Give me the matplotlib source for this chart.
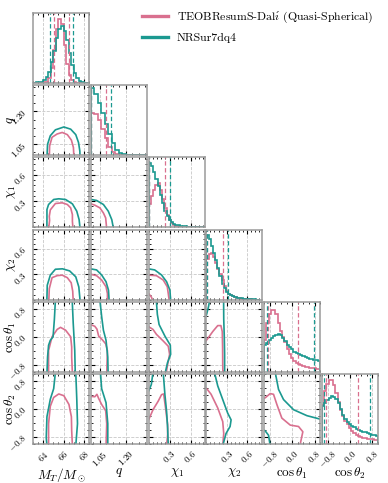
import numpy as np
import matplotlib
matplotlib.use("Agg")
import matplotlib.pyplot as plt
from matplotlib.ticker import AutoMinorLocator
from matplotlib.lines import Line2D

plt.rcParams['mathtext.fontset'] = 'cm'
plt.rcParams['font.family'] = ['cmr10', 'DejaVu Serif']
plt.rcParams['axes.formatter.use_mathtext'] = True

# ---------------- data ----------------
series_labels = [r"TEOBResumS-Dal$\acute{\imath}$ (Quasi-Spherical)", "NRSur7dq4"]
param_labels = [r"$M_T/M_\odot$", r"$q$", r"$\chi_1$", r"$\chi_2$", r"$\cos\theta_1$", r"$\cos\theta_2$"]
ranges = [(63.0, 68.5), (1.0, 1.32), (0.0, 0.8), (0.0, 0.83), (-1.0, 1.0), (-1.0, 1.0)]
major_ticks = [[64, 66, 68], [1.05, 1.20], [0.3, 0.6], [0.3, 0.6], [-0.8, 0.0, 0.8], [-0.8, 0.0, 0.8]]
tick_labels = [["64", "66", "68"], ["1.05", "1.20"], ["0.3", "0.6"], ["0.3", "0.6"],
               ["-0.8", "0.0", "0.8"], ["-0.8", "0.0", "0.8"]]
minor_div = [4, 4, 5, 5, 4, 4]

# histogram bins: (low, high, nbins)
hist_bins = [(63.0, 68.5, 22), (1.0, 1.32, 16), (0.0, 0.8, 25), (0.0, 0.8, 25), (-1.0, 1.0, 25), (-1.0, 1.0, 25)]
hist_ymax = [1.1, 1.0, 1.0, 1.0, 1.0, 1.0]

mt_pink = [0, 0, 0, 0, 0.01, 0.02, 0.08, 0.24, 0.52, 0.85, 1.0, 0.92, 0.60, 0.30, 0.12, 0.04, 0.015, 0.005, 0, 0, 0, 0]
mt_teal = [0, 0.01, 0.01, 0.02, 0.04, 0.09, 0.18, 0.33, 0.51, 0.70, 0.85, 0.89, 0.82, 0.67, 0.47, 0.29, 0.16, 0.08, 0.035, 0.015, 0.005, 0]
q_pink = [0.60, 0.59, 0.50, 0.38, 0.24, 0.11, 0.05, 0.02, 0.008, 0.003, 0, 0, 0, 0, 0, 0]
q_teal = [0.96, 0.88, 0.74, 0.60, 0.45, 0.30, 0.17, 0.08, 0.035, 0.015, 0.008, 0.004, 0.002, 0.001, 0, 0]
chi1_pink = [0.33, 0.45, 0.53, 0.61, 0.63, 0.54, 0.40, 0.27, 0.17, 0.10, 0.06, 0.04, 0.025, 0.018, 0.012,
             0.008, 0.005, 0.003, 0.002, 0, 0, 0, 0, 0, 0]
chi1_teal = [0.92, 0.87, 0.79, 0.69, 0.59, 0.46, 0.35, 0.24, 0.16, 0.10, 0.07, 0.05, 0.04, 0.03, 0.025,
             0.02, 0.015, 0.01, 0.008, 0.006, 0.004, 0.003, 0.002, 0.001, 0]
chi2_pink = [0.58, 0.65, 0.66, 0.61, 0.53, 0.44, 0.36, 0.28, 0.20, 0.13, 0.08, 0.06, 0.045, 0.035, 0.025,
             0.018, 0.012, 0.008, 0.005, 0.003, 0.002, 0, 0, 0, 0]
chi2_teal = [0.93, 0.86, 0.76, 0.67, 0.56, 0.45, 0.34, 0.23, 0.16, 0.11, 0.08, 0.06, 0.05, 0.04, 0.03,
             0.025, 0.02, 0.015, 0.01, 0.008, 0.005, 0.003, 0.002, 0.001, 0]
ct1_pink = [0.46, 0.70, 0.83, 0.89, 0.89, 0.82, 0.70, 0.59, 0.50, 0.42, 0.33, 0.26, 0.20, 0.16, 0.13,
            0.11, 0.095, 0.08, 0.072, 0.065, 0.06, 0.055, 0.05, 0.045, 0.04]
ct1_teal = [0.38, 0.41, 0.45, 0.48, 0.51, 0.53, 0.54, 0.52, 0.48, 0.44, 0.39, 0.35, 0.32, 0.29, 0.27,
            0.25, 0.24, 0.23, 0.21, 0.20, 0.19, 0.18, 0.17, 0.165, 0.16]
ct2_pink = [0.56, 0.76, 0.86, 0.91, 0.91, 0.85, 0.73, 0.60, 0.49, 0.40, 0.33, 0.28, 0.23, 0.19, 0.16,
            0.135, 0.12, 0.105, 0.09, 0.08, 0.075, 0.07, 0.065, 0.06, 0.055]
ct2_teal = [0.54, 0.59, 0.63, 0.66, 0.68, 0.67, 0.64, 0.58, 0.50, 0.42, 0.36, 0.32, 0.29, 0.26, 0.24,
            0.215, 0.2, 0.185, 0.17, 0.165, 0.155, 0.145, 0.135, 0.125, 0.12]

# 5% / 95% quantiles
quant_pink = [(65.05, 66.5), (1.004, 1.087), (0.012, 0.24), (0.012, 0.243), (-0.85, 0.20), (-0.84, 0.30)]
quant_teal = [(64.67, 66.94), (1.002, 1.116), (0.008, 0.30), (0.008, 0.314), (-0.905, 0.79), (-0.93, 0.70)]

# 90% credible contours (x, y)
mt_q_pink = [(64.6, 0.98), (64.63, 1.042), (64.87, 1.082), (65.37, 1.097), (65.87, 1.104), (66.37, 1.094),
             (66.77, 1.069), (66.97, 1.035), (67.03, 0.98)]
mt_q_teal = [(64.36, 0.98), (64.43, 1.05), (64.7, 1.089), (65.2, 1.116), (66.03, 1.129), (66.7, 1.119),
             (67.2, 1.094), (67.47, 1.058), (67.6, 1.019), (67.63, 0.98)]
mt_chi1_pink = [(64.53, -0.02), (64.63, 0.08), (64.6, 0.127), (64.7, 0.2), (65.2, 0.273), (65.87, 0.281),
                (66.37, 0.262), (66.7, 0.223), (66.87, 0.146), (66.87, 0.069), (66.93, -0.02)]
mt_chi1_teal = [(64.36, -0.02), (64.37, 0.1), (64.37, 0.204), (64.53, 0.262), (65.03, 0.319), (65.53, 0.327),
                (66.2, 0.319), (66.87, 0.269), (67.3, 0.185), (67.53, 0.088), (67.63, -0.02)]
mt_chi2_pink = [(64.55, -0.02), (64.6, 0.13), (64.87, 0.26), (65.37, 0.284), (65.87, 0.29), (66.37, 0.26),
                (66.75, 0.2), (66.9, 0.1), (66.95, -0.02)]
mt_chi2_teal = [(64.36, -0.02), (64.4, 0.17), (64.7, 0.29), (65.2, 0.36), (65.9, 0.365), (66.6, 0.34),
                (67.2, 0.27), (67.5, 0.15), (67.63, -0.02)]
mt_ct1_pink = [(64.53, -1.05), (64.53, -0.39), (64.87, 0.0), (65.37, 0.21), (65.7, 0.27), (66.2, 0.19),
               (66.7, 0.0), (66.8, -0.29), (66.8, -0.58), (66.87, -1.05)]
mt_ct1_teal_a = [(65.2, 1.05), (65.1, 0.5), (64.97, 0.0), (64.7, -0.1), (64.53, -0.24), (64.43, -0.58), (64.37, -1.05)]
mt_ct1_teal_b = [(66.85, 1.05), (66.95, 0.39), (67.1, -0.39), (67.15, -1.05)]
mt_ct2_pink = [(64.53, -1.05), (64.53, -0.42), (64.7, 0.08), (65.03, 0.33), (65.53, 0.43), (66.03, 0.38),
               (66.53, 0.13), (66.77, -0.22), (66.8, -0.62), (66.87, -1.05)]
mt_ct2_teal_a = [(65.2, 1.05), (65.03, 0.58), (64.7, 0.28), (64.37, -0.22), (64.3, -0.82), (64.37, -1.05)]
mt_ct2_teal_b = [(67.2, 1.05), (67.3, 0.28), (67.37, -0.42), (67.2, -1.05)]
q_chi1_pink = [(0.98, 0.27), (1.0, 0.27), (1.023, 0.254), (1.052, 0.223), (1.072, 0.165), (1.085, 0.108), (1.091, -0.02)]
q_chi1_teal = [(0.98, 0.32), (1.0, 0.32), (1.033, 0.308), (1.072, 0.262), (1.1, 0.185), (1.12, 0.088), (1.13, -0.02)]
q_chi2_pink = [(0.98, 0.3), (1.0, 0.3), (1.033, 0.284), (1.062, 0.232), (1.087, 0.152), (1.095, 0.072), (1.095, -0.02)]
q_chi2_teal = [(0.98, 0.365), (1.0, 0.364), (1.033, 0.352), (1.062, 0.292), (1.087, 0.212), (1.101, 0.112), (1.105, -0.02)]
q_ct1_pink = [(0.98, 0.34), (1.004, 0.34), (1.023, 0.30), (1.035, 0.22), (1.045, 0.02), (1.065, -0.08),
              (1.085, -0.2), (1.095, -0.4), (1.093, -0.7), (1.091, -1.05)]
q_ct1_teal = [(1.052, 1.05), (1.062, 0.58), (1.072, 0.19), (1.087, -0.1), (1.097, -0.58), (1.099, -1.05)]
q_ct2_pink = [(0.98, 0.36), (1.004, 0.36), (1.023, 0.35), (1.035, 0.42), (1.045, 0.30), (1.062, 0.13),
              (1.085, -0.05), (1.091, -0.42), (1.087, -1.05)]
q_ct2_teal = [(1.055, 1.05), (1.062, 0.58), (1.087, 0.18), (1.097, -0.42), (1.097, -1.05)]
chi1_chi2_pink = [(-0.02, 0.29), (0.0, 0.29), (0.112, 0.284), (0.209, 0.232), (0.267, 0.152), (0.281, 0.072), (0.296, -0.02)]
chi1_chi2_pink_b = [(-0.02, 0.075), (0.0, 0.072), (0.039, 0.032), (0.063, -0.02)]
chi1_chi2_teal = [(-0.02, 0.364), (0.0, 0.364), (0.087, 0.352), (0.185, 0.292), (0.257, 0.212), (0.305, 0.112), (0.315, -0.02)]
chi1_ct1_pink = [(-0.02, 0.30), (0.0, 0.29), (0.063, 0.21), (0.112, 0.07), (0.209, -0.12), (0.281, -0.27),
                 (0.30, -0.5), (0.272, -0.79), (0.25, -1.05)]
chi1_ct1_pink_b = [(-0.02, -0.03), (0.008, -0.08), (-0.02, -0.14)]
chi1_ct1_teal = [(0.11, 1.05), (0.125, 0.64), (0.15, 0.35), (0.233, 0.02), (0.31, -0.24), (0.315, -0.5),
                 (0.27, -0.74), (0.235, -1.05)]
chi1_ct2_pink = [(-0.02, -0.33), (0.0, -0.31), (0.063, -0.02), (0.136, 0.22), (0.185, 0.41), (0.215, 0.43),
                 (0.242, 0.03), (0.272, -0.45), (0.272, -0.74), (0.257, -1.05)]
chi1_ct2_teal_a = [(-0.02, 0.48), (0.0, 0.51), (0.039, 0.70), (0.063, 1.05)]
chi1_ct2_teal_b = [(0.209, 1.05), (0.233, 0.41), (0.257, -0.07), (0.272, -0.55), (0.281, -1.05)]
chi2_ct1_pink = [(-0.02, -0.15), (0.02, -0.05), (0.094, 0.15), (0.168, 0.32), (0.215, 0.32), (0.235, 0.15),
                 (0.24, -0.3), (0.242, -0.8), (0.245, -1.05)]
chi2_ct1_teal_a = [(-0.02, 0.6), (0.0, 0.62), (0.03, 0.85), (0.05, 1.05)]
chi2_ct1_teal_b = [(0.255, 1.05), (0.257, 0.5), (0.265, 0.0), (0.27, -0.5), (0.27, -1.05)]
chi2_ct2_pink = [(-0.02, 0.61), (0.005, 0.58), (0.07, 0.42), (0.168, 0.03), (0.242, -0.36), (0.257, -0.7), (0.242, -1.05)]
chi2_ct2_teal = [(0.119, 1.05), (0.168, 0.66), (0.242, 0.27), (0.316, -0.12), (0.366, -0.31), (0.351, -0.5),
                 (0.291, -0.7), (0.242, -1.05)]
ct1_ct2_pink = [(-1.05, 0.3), (-0.964, 0.32), (-0.786, 0.44), (-0.667, 0.42), (-0.548, 0.13), (-0.37, -0.26),
                (-0.07, -0.46), (0.226, -0.5), (0.38, -0.65), (0.3, -0.95), (0.29, -1.05)]
ct1_ct2_teal_a = [(-0.607, 1.05), (-0.488, 0.56), (-0.31, 0.27), (0.048, -0.02), (0.524, -0.19), (1.05, -0.3)]
ct1_ct2_teal_b = [(-1.05, -0.6), (-0.97, -0.62), (-0.845, -0.75), (-0.786, -1.05)]

# ---------------- assemble ----------------
hists = [(mt_pink, mt_teal), (q_pink, q_teal), (chi1_pink, chi1_teal), (chi2_pink, chi2_teal),
         (ct1_pink, ct1_teal), (ct2_pink, ct2_teal)]
contours = {
    (1, 0): ([mt_q_pink], [mt_q_teal]),
    (2, 0): ([mt_chi1_pink], [mt_chi1_teal]),
    (3, 0): ([mt_chi2_pink], [mt_chi2_teal]),
    (4, 0): ([mt_ct1_pink], [mt_ct1_teal_a, mt_ct1_teal_b]),
    (5, 0): ([mt_ct2_pink], [mt_ct2_teal_a, mt_ct2_teal_b]),
    (2, 1): ([q_chi1_pink], [q_chi1_teal]),
    (3, 1): ([q_chi2_pink], [q_chi2_teal]),
    (4, 1): ([q_ct1_pink], [q_ct1_teal]),
    (5, 1): ([q_ct2_pink], [q_ct2_teal]),
    (3, 2): ([chi1_chi2_pink, chi1_chi2_pink_b], [chi1_chi2_teal]),
    (4, 2): ([chi1_ct1_pink, chi1_ct1_pink_b], [chi1_ct1_teal]),
    (5, 2): ([chi1_ct2_pink], [chi1_ct2_teal_a, chi1_ct2_teal_b]),
    (4, 3): ([chi2_ct1_pink], [chi2_ct1_teal_a, chi2_ct1_teal_b]),
    (5, 3): ([chi2_ct2_pink], [chi2_ct2_teal]),
    (5, 4): ([ct1_ct2_pink], [ct1_ct2_teal_a, ct1_ct2_teal_b]),
}

PINK = "#d9708f"
TEAL = "#1b9990"
colors = [PINK, TEAL]
GRID = "#c8c8c8"
SPINE = "#9a9a9a"

W, H = 388, 483
fig = plt.figure(figsize=(W / 100, H / 100), dpi=100)
left0, colpitch, aw = 33.0, 57.8, 56.0
top0, rowpitch, ah = 13.0, 72.2, 70.0
n = 6

def mathlab(s):
    return "$" + s + "$"

for i in range(n):
    for j in range(i + 1):
        x0 = left0 + j * colpitch
        y0 = top0 + i * rowpitch
        ax = fig.add_axes([x0 / W, 1 - (y0 + ah) / H, aw / W, ah / H])
        ax.set_axisbelow(True)
        for sp in ax.spines.values():
            sp.set_color(SPINE)
            sp.set_linewidth(1.1)
        ax.set_xlim(ranges[j])
        ax.set_xticks(major_ticks[j])
        ax.xaxis.set_minor_locator(AutoMinorLocator(minor_div[j]))
        ax.tick_params(which='both', direction='in', top=True, bottom=True, colors='black')
        ax.tick_params(which='major', length=3.2, width=0.8)
        ax.tick_params(which='minor', length=1.6, width=0.6)
        if i == j:
            lo, hi, nb = hist_bins[i]
            edges = np.linspace(lo, hi, nb + 1)
            for s in range(2):
                ax.stairs(hists[i][s], edges, color=colors[s], lw=1.2)
            for s, qs in enumerate([quant_pink[i], quant_teal[i]]):
                for v in qs:
                    ax.axvline(v, color=colors[s], ls='--', lw=0.9, dashes=(3.5, 2.0))
            ax.set_ylim(0, hist_ymax[i])
            ax.set_yticks([])
            ax.tick_params(axis='y', which='both', left=False, right=False)
            ax.grid(True, axis='x', which='major', ls='--', color=GRID, lw=0.6)
        else:
            ax.set_ylim(ranges[i])
            ax.set_yticks(major_ticks[i])
            ax.yaxis.set_minor_locator(AutoMinorLocator(minor_div[i]))
            ax.tick_params(axis='y', which='both', left=True, right=True)
            ax.grid(True, which='major', ls='--', color=GRID, lw=0.6)
            for s in range(2):
                for line in contours[(i, j)][s]:
                    xs, ys = zip(*line)
                    ax.plot(xs, ys, color=colors[s], lw=1.2, solid_joinstyle='round')
        # x labels
        if i == n - 1:
            ax.set_xticklabels([mathlab(t) for t in tick_labels[j]], rotation=45, fontsize=6.5)
            ax.set_xlabel(param_labels[j], fontsize=9.5)
            ax.xaxis.set_label_coords(0.5, -0.315)
        else:
            ax.set_xticklabels([])
        # y labels
        if j == 0 and i > 0:
            ax.set_yticklabels([mathlab(t) for t in tick_labels[i]], rotation=45, fontsize=6.5)
            ax.set_ylabel(param_labels[i], fontsize=9.5)
            ax.yaxis.set_label_coords(-0.26, 0.5)
        elif i != j:
            ax.set_yticklabels([])

handles = [Line2D([], [], color=c, lw=2.4) for c in colors]
fig.legend(handles, series_labels, loc='upper left', bbox_to_anchor=(142 / W, 1 - 10 / H),
           frameon=False, prop=dict(family=['cmr10', 'DejaVu Serif'], size=8.5),
           handlelength=2.2, handletextpad=0.75, borderpad=0, borderaxespad=0, labelspacing=0.65)

fig.savefig("out.png", dpi=100)
